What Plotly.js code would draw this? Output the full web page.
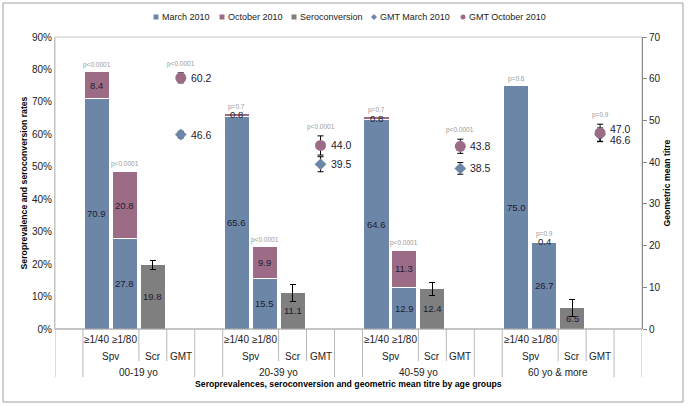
<!DOCTYPE html>
<html>
<head>
<meta charset="utf-8">
<script src="https://cdn.plot.ly/plotly-3.0.1.min.js"></script>
<style>
html,body{margin:0;padding:0;background:#fff;}
#chart{width:689px;height:406px;}
</style>
</head>
<body>
<div id="chart"></div>
<script>
// ---- data ----
var groups = ['00-19 yo', '20-39 yo', '40-59 yo', '60 yo & more'];
var subLabels = ['≥1/40', '≥1/80'];
var midLabels = ['Spv', 'Scr', 'GMT'];
var seriesNames = ['March 2010', 'October 2010', 'Seroconversion', 'GMT March 2010', 'GMT October 2010'];
var march40 = [70.9, 65.6, 64.6, 75.0];
var oct40   = [8.4, 0.8, 0.8, 0];
var march80 = [27.8, 15.5, 12.9, 26.7];
var oct80   = [20.8, 9.9, 11.3, 0.4];
var scr     = [19.8, 11.1, 12.4, 6.5];
var scrErr  = [1.4, 2.6, 2.0, 2.6];
var gmtMar    = [46.6, 39.5, 38.5, 46.6];
var gmtMarErr = [0.8, 1.8, 1.4, 1.6];
var gmtOct    = [60.2, 44.0, 43.8, 47.0];
var gmtOctErr = [1.2, 2.3, 1.7, 2.1];
var p40  = ['p<0.0001', 'p=0.7', 'p=0.7', 'p=0.6'];
var p80  = ['p<0.0001', 'p<0.0001', 'p<0.0001', 'p=0.9'];
var pGmt = ['p<0.0001', 'p<0.0001', 'p<0.0001', 'p=0.9'];

// ---- categories (blank slot between groups) ----
var cats = [];
function cid(g, s) { return groups[g] + ' ' + s; }
cats.push('blank0');
groups.forEach(function (g, i) {
  cats.push(cid(i, '40'), cid(i, '80'), cid(i, 'Scr'), cid(i, 'GMT'));
  cats.push('blank' + (i + 1));
});
var x40 = groups.map(function (g, i) { return cid(i, '40'); });
var x80 = groups.map(function (g, i) { return cid(i, '80'); });
var xScr = groups.map(function (g, i) { return cid(i, 'Scr'); });
var xGmt = groups.map(function (g, i) { return cid(i, 'GMT'); });

var cBlue = '#6c86a8', cMauve = '#9c6c86', cGray = '#7f7f7f';
var txt = '#1c1c30';
var F = 'Liberation Sans, Arial, sans-serif';

var traces = [
  {type: 'bar', name: seriesNames[0], x: x40.concat(x80), y: march40.concat(march80),
   marker: {color: cBlue, line: {color: '#fff', width: 1}}},
  {type: 'bar', name: seriesNames[1], x: x40.concat(x80), y: oct40.concat(oct80),
   marker: {color: cMauve, line: {color: '#fff', width: 1}}},
  {type: 'bar', name: seriesNames[2], x: xScr, y: scr,
   marker: {color: cGray, line: {color: '#fff', width: 1}},
   error_y: {type: 'data', array: scrErr, visible: true, color: '#000', thickness: 1, width: 3}},
  {type: 'scatter', mode: 'markers', name: seriesNames[3], x: xGmt, y: gmtMar, yaxis: 'y2',
   marker: {symbol: 'diamond', color: cBlue, size: 9},
   error_y: {type: 'data', array: gmtMarErr, visible: true, color: '#000', thickness: 1, width: 3}},
  {type: 'scatter', mode: 'markers', name: seriesNames[4], x: xGmt, y: gmtOct, yaxis: 'y2',
   marker: {symbol: 'circle', color: cMauve, size: 11},
   error_y: {type: 'data', array: gmtOctErr, visible: true, color: '#000', thickness: 1, width: 3}}
];

var ann = [];
function valLabel(x, y, v, yref) {
  if (v <= 0) return;
  ann.push({x: x, y: y, xref: 'x', yref: yref || 'y', text: v.toFixed(1), showarrow: false,
            xanchor: 'center', yanchor: 'middle', font: {family: F, size: 9.5, color: txt}});
}
function pLabel(x, y, t, yref, shift) {
  ann.push({x: x, y: y, xref: 'x', yref: yref || 'y', text: t, showarrow: false, xanchor: 'center', yanchor: 'bottom',
            yshift: shift || 1, font: {family: F, size: 6.5, color: '#999'}});
}
groups.forEach(function (g, i) {
  valLabel(x40[i], march40[i] / 2, march40[i]);
  valLabel(x40[i], march40[i] + oct40[i] / 2, oct40[i]);
  valLabel(x80[i], march80[i] / 2, march80[i]);
  valLabel(x80[i], march80[i] + oct80[i] / 2, oct80[i]);
  valLabel(xScr[i], scr[i] / 2, scr[i]);
  pLabel(x40[i], march40[i] + oct40[i], p40[i]);
  pLabel(x80[i], march80[i] + oct80[i], p80[i]);
  var top = Math.max(gmtOct[i] + gmtOctErr[i], gmtMar[i] + gmtMarErr[i]);
  pLabel(xGmt[i], top, pGmt[i], 'y2', 3);
  var close = Math.abs(gmtOct[i] - gmtMar[i]) < 3;
  ann.push({x: xGmt[i], y: gmtOct[i], xref: 'x', yref: 'y2', text: gmtOct[i].toFixed(1), showarrow: false,
            xanchor: 'left', yanchor: 'middle', xshift: 8, yshift: close ? 4 : 0, font: {family: F, size: 10.5, color: txt}});
  ann.push({x: xGmt[i], y: gmtMar[i], xref: 'x', yref: 'y2', text: gmtMar[i].toFixed(1), showarrow: false,
            xanchor: 'left', yanchor: 'middle', xshift: 8, yshift: close ? -5 : 0, font: {family: F, size: 10.5, color: txt}});
});

// category axis labels (3 levels)
var plotL = 55, plotT = 37, plotW = 587, plotH = 292;
function py(px) { return -px / plotH; }
function paperX(px) { return (px - plotL) / plotW; }
function paperY(px) { return (plotT + plotH - px) / plotH; }
var shapes = [];
var lineC = '#b8b8b8';
function vline(xv, y1) {
  shapes.push({type: 'line', xref: 'x', yref: 'paper', x0: xv, x1: xv, y0: 0, y1: y1,
               line: {color: lineC, width: 1}});
}
function catLabel(xv, ypx, t) {
  ann.push({x: xv, y: py(ypx), xref: 'x', yref: 'paper', text: t, showarrow: false,
            xanchor: 'center', yanchor: 'middle', font: {family: F, size: 10, color: '#222'}});
}
vline(-0.5, py(48));
vline(cats.length - 0.5, py(48));
groups.forEach(function (g, i) {
  var s = 1 + i * 5;
  catLabel(s, 10, subLabels[0]);
  catLabel(s + 1, 10, subLabels[1]);
  catLabel(s + 0.5, 27, midLabels[0]);
  catLabel(s + 2, 27, midLabels[1]);
  catLabel(s + 3, 27, midLabels[2]);
  catLabel(s + 1.5, 43, g);
  vline(s - 0.5, py(48));
  vline(s + 3.5, py(48));
  vline(s + 1.5, py(32));
  vline(s + 2.5, py(32));
});
ann.push({x: 0.5, y: py(55), xref: 'paper', yref: 'paper', xanchor: 'center', yanchor: 'middle',
          text: '<b>Seroprevalences, seroconversion and geometric mean titre by age groups</b>',
          showarrow: false, font: {family: F, size: 8.7, color: '#000'}});
// plot frame
shapes.push({type: 'rect', xref: 'paper', yref: 'paper', x0: 0, x1: 1, y0: 0, y1: 1,
             line: {color: '#c4c4c4', width: 1}, layer: 'below'});
// baseline
shapes.push({type: 'line', xref: 'paper', yref: 'paper', x0: 0, x1: 1, y0: 0, y1: 0,
             line: {color: '#a8a8a8', width: 1}});
// chart outer border
shapes.push({type: 'rect', xref: 'paper', yref: 'paper', x0: paperX(3), x1: paperX(683), y0: paperY(402), y1: paperY(3),
             line: {color: '#a0a0a0', width: 1}});

// legend (compact, Excel-like): symbol centre in pixels
var legSymPx = [156, 222, 294, 374, 463];
var legColors = [cBlue, cMauve, cGray, cBlue, cMauve];
var legKinds = ['square', 'square', 'square', 'diamond', 'circle'];
var legY = 17;
seriesNames.forEach(function (n, i) {
  var cx = legSymPx[i], r = 2.5;
  var X0 = paperX(cx - r), X1 = paperX(cx + r), Y0 = paperY(legY + r), Y1 = paperY(legY - r);
  if (legKinds[i] === 'square') {
    shapes.push({type: 'rect', xref: 'paper', yref: 'paper', x0: X0, x1: X1, y0: Y0, y1: Y1,
                 fillcolor: legColors[i], line: {width: 0}});
  } else if (legKinds[i] === 'circle') {
    shapes.push({type: 'circle', xref: 'paper', yref: 'paper', x0: X0, x1: X1, y0: Y0, y1: Y1,
                 fillcolor: legColors[i], line: {width: 0}});
  } else {
    var xc = paperX(cx), yc = paperY(legY);
    shapes.push({type: 'path', xref: 'paper', yref: 'paper',
                 path: 'M' + xc + ',' + paperY(legY - 3) + ' L' + paperX(cx + 3) + ',' + yc + ' L' + xc + ',' + paperY(legY + 3) + ' L' + paperX(cx - 3) + ',' + yc + ' Z',
                 fillcolor: legColors[i], line: {width: 0}});
  }
  ann.push({x: paperX(cx + 4), y: paperY(legY), xref: 'paper', yref: 'paper', text: n, showarrow: false,
            xanchor: 'left', yanchor: 'middle', font: {family: F, size: 9, color: '#222'}});
});

var layout = {
  width: 689, height: 406,
  margin: {l: 55, r: 47, t: 37, b: 77, autoexpand: false},
  paper_bgcolor: '#fff', plot_bgcolor: '#fff',
  font: {family: F, size: 10, color: '#222'},
  barmode: 'stack', bargap: 0.1,
  showlegend: false,
  xaxis: {type: 'category', categoryorder: 'array', categoryarray: cats, range: [-0.5, cats.length - 0.5],
          showticklabels: false, ticks: '', showgrid: false, zeroline: false, showline: false, fixedrange: true},
  yaxis: {range: [0, 90], dtick: 10, ticksuffix: '%', showgrid: false, zeroline: false, showline: true,
          linecolor: '#c4c4c4', ticks: '', tickfont: {family: F, size: 10, color: '#222'},
          title: {text: '<b>Seroprevalence and seroconversion rates</b>', font: {family: F, size: 8.7, color: '#000'}, standoff: 2}},
  yaxis2: {overlaying: 'y', side: 'right', range: [0, 70], dtick: 10, showgrid: false, zeroline: false,
           showline: true, linecolor: '#888', ticks: 'outside', ticklen: 4, tickcolor: '#888',
           tickfont: {family: F, size: 10, color: '#222'},
           title: {text: '<b>Geometric mean titre</b>', font: {family: F, size: 8.7, color: '#000'}, standoff: 4}},
  annotations: ann,
  shapes: shapes
};

Plotly.newPlot('chart', traces, layout, {displayModeBar: false, staticPlot: true});
</script>
</body>
</html>
